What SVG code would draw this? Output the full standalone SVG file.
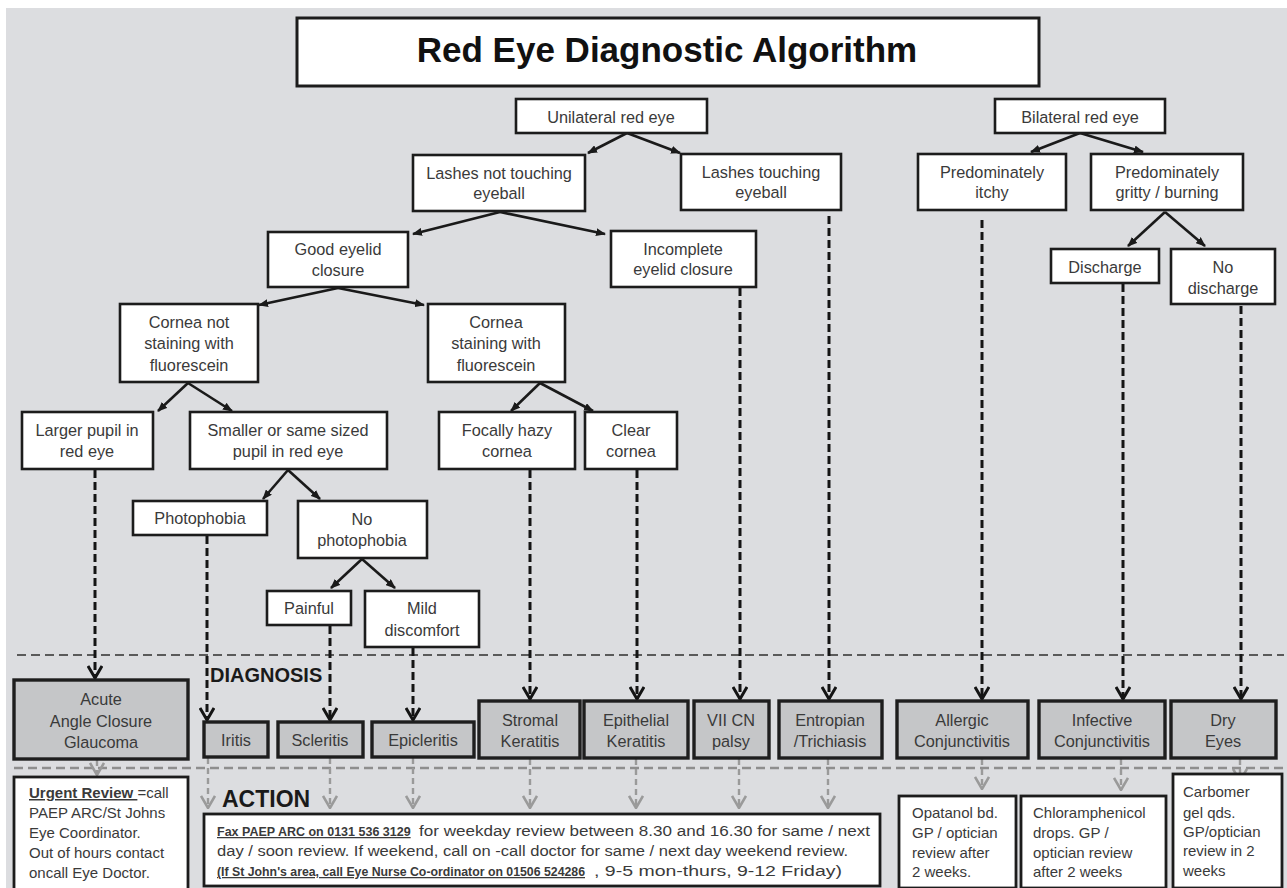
<svg xmlns="http://www.w3.org/2000/svg" width="1287" height="888" viewBox="0 0 1287 888">
<style>
.node rect{fill:#fff;stroke:#1c1c1c;stroke-width:2.6}
.dx rect{fill:#c5c6c8;stroke:#1e1e1e;stroke-width:3.4}
.act rect{fill:#fff;stroke:#1c1c1c;stroke-width:2.8}
text{font-family:"Liberation Sans",Arial,sans-serif;fill:#3a3a3a}
.c{font-size:16.3px;text-anchor:middle}
.a{font-size:15px}
.f{font-size:14px}
.fb{font-size:12.5px}
.b{font-weight:bold;text-decoration:underline}
.lbl{font-weight:bold;fill:#1a1a1a}
.tree{stroke:#1a1a1a;stroke-width:2.6;fill:none;marker-end:url(#tri)}
.dash{stroke:#141414;stroke-width:3;stroke-dasharray:8 4;fill:none;marker-end:url(#chev)}
.gdash{stroke:#9a9a9a;stroke-width:2.4;stroke-dasharray:6 4;fill:none;marker-end:url(#gchev)}
.sep1{stroke:#5a5a5a;stroke-width:2;stroke-dasharray:9 5}
.sep2{stroke:#8e8e8e;stroke-width:2.4;stroke-dasharray:9 5}
</style>
<defs>
<marker id="tri" viewBox="0 0 10 8" refX="9" refY="4" markerWidth="10" markerHeight="8" markerUnits="userSpaceOnUse" orient="auto"><path d="M0,0 L10,4 L0,8 z" fill="#1a1a1a"/></marker>
<marker id="chev" viewBox="0 0 14 16" refX="13" refY="8" markerWidth="14" markerHeight="16" markerUnits="userSpaceOnUse" orient="auto"><path d="M1,1 L13,8 L1,15" fill="none" stroke="#141414" stroke-width="3"/></marker>
<marker id="gchev" viewBox="0 0 14 16" refX="13" refY="8" markerWidth="14" markerHeight="16" markerUnits="userSpaceOnUse" orient="auto"><path d="M1,1 L13,8 L1,15" fill="none" stroke="#9a9a9a" stroke-width="2.6"/></marker>
</defs>
<rect x="0" y="0" width="1287" height="888" fill="#fff"/>
<rect x="6" y="8" width="1281" height="880" fill="#dcdde0"/>

<g id="title"><rect x="297" y="18" width="742" height="68" fill="#fff" stroke="#1c1c1c" stroke-width="3"/><text x="667" y="62" style="font-size:35px;font-weight:bold;fill:#111;text-anchor:middle">Red Eye Diagnostic Algorithm</text></g>

<g id="separators"><line class="sep1" x1="17" y1="655" x2="1284" y2="655"/><line class="sep2" x1="14" y1="768" x2="1284" y2="768"/></g>
<text x="210" y="682" class="lbl" style="font-size:20px">DIAGNOSIS</text>
<text x="222" y="807" class="lbl" style="font-size:23px">ACTION</text>

<g id="connectors">
<line class="tree" x1="627" y1="133" x2="588" y2="153"/>
<line class="tree" x1="627" y1="133" x2="680" y2="153"/>
<line class="tree" x1="500" y1="212" x2="413" y2="234"/>
<line class="tree" x1="500" y1="212" x2="605" y2="234"/>
<line class="tree" x1="338" y1="288" x2="259" y2="305"/>
<line class="tree" x1="338" y1="288" x2="424" y2="305"/>
<line class="tree" x1="188" y1="383" x2="158" y2="411"/>
<line class="tree" x1="188" y1="383" x2="232" y2="411"/>
<line class="tree" x1="540" y1="383" x2="511" y2="411"/>
<line class="tree" x1="540" y1="383" x2="593" y2="411"/>
<line class="tree" x1="288" y1="470" x2="263" y2="499"/>
<line class="tree" x1="288" y1="470" x2="320" y2="499"/>
<line class="tree" x1="362" y1="559" x2="331" y2="588"/>
<line class="tree" x1="362" y1="559" x2="395" y2="588"/>
<line class="tree" x1="1080" y1="133" x2="1031" y2="152"/>
<line class="tree" x1="1080" y1="133" x2="1143" y2="152"/>
<line class="tree" x1="1165" y1="212" x2="1128" y2="246"/>
<line class="tree" x1="1165" y1="212" x2="1205" y2="246"/>

<line class="dash" x1="95" y1="470" x2="95" y2="678"/>
<line class="dash" x1="207" y1="536" x2="207" y2="720"/>
<line class="dash" x1="330" y1="626" x2="330" y2="720"/>
<line class="dash" x1="413" y1="648" x2="413" y2="720"/>
<line class="dash" x1="530" y1="470" x2="530" y2="699"/>
<line class="dash" x1="637" y1="470" x2="637" y2="699"/>
<line class="dash" x1="740" y1="288" x2="740" y2="699"/>
<line class="dash" x1="829" y1="216" x2="829" y2="699"/>
<line class="dash" x1="982" y1="220" x2="982" y2="699"/>
<line class="dash" x1="1123" y1="284" x2="1123" y2="699"/>
<line class="dash" x1="1241" y1="306" x2="1241" y2="699"/>

<line class="gdash" x1="97" y1="760" x2="97" y2="775"/>
<line class="gdash" x1="208" y1="758" x2="208" y2="808"/>
<line class="gdash" x1="330" y1="758" x2="330" y2="808"/>
<line class="gdash" x1="413" y1="758" x2="413" y2="808"/>
<line class="gdash" x1="530" y1="759" x2="530" y2="808"/>
<line class="gdash" x1="636" y1="759" x2="636" y2="808"/>
<line class="gdash" x1="739" y1="759" x2="739" y2="808"/>
<line class="gdash" x1="828" y1="759" x2="828" y2="808"/>
<line class="gdash" x1="982" y1="759" x2="982" y2="789"/>
<line class="gdash" x1="1121" y1="759" x2="1121" y2="790"/>
<line class="gdash" x1="1240" y1="759" x2="1240" y2="781"/>
</g>

<g id="unilateral" class="node"><rect x="516" y="99" width="191" height="34"/><text class="c" x="611" y="123">Unilateral red eye</text></g>
<g id="bilateral" class="node"><rect x="995" y="99" width="170" height="34"/><text class="c" x="1080" y="123">Bilateral red eye</text></g>
<g id="lashes-not" class="node"><rect x="413" y="155" width="172" height="56"/><text class="c" x="499" y="179">Lashes not touching</text><text class="c" x="499" y="199">eyeball</text></g>
<g id="lashes-touching" class="node"><rect x="681" y="154" width="160" height="56"/><text class="c" x="761" y="178">Lashes touching</text><text class="c" x="761" y="198">eyeball</text></g>
<g id="itchy" class="node"><rect x="918" y="154" width="148" height="56"/><text class="c" x="992" y="178">Predominately</text><text class="c" x="992" y="198">itchy</text></g>
<g id="gritty" class="node"><rect x="1091" y="154" width="152" height="56"/><text class="c" x="1167" y="178">Predominately</text><text class="c" x="1167" y="198">gritty / burning</text></g>
<g id="good-eyelid" class="node"><rect x="268" y="232" width="140" height="55"/><text class="c" x="338" y="255">Good eyelid</text><text class="c" x="338" y="276">closure</text></g>
<g id="incomplete-eyelid" class="node"><rect x="611" y="231" width="145" height="56"/><text class="c" x="683" y="255">Incomplete</text><text class="c" x="683" y="275">eyelid closure</text></g>
<g id="discharge" class="node"><rect x="1051" y="249" width="108" height="34"/><text class="c" x="1105" y="273">Discharge</text></g>
<g id="no-discharge" class="node"><rect x="1171" y="249" width="104" height="55"/><text class="c" x="1223" y="273">No</text><text class="c" x="1223" y="294">discharge</text></g>
<g id="cornea-not" class="node"><rect x="120" y="304" width="138" height="78"/><text class="c" x="189" y="328">Cornea not</text><text class="c" x="189" y="349">staining with</text><text class="c" x="189" y="371">fluorescein</text></g>
<g id="cornea-staining" class="node"><rect x="428" y="304" width="137" height="78"/><text class="c" x="496" y="328">Cornea</text><text class="c" x="496" y="349">staining with</text><text class="c" x="496" y="371">fluorescein</text></g>
<g id="larger-pupil" class="node"><rect x="22" y="412" width="131" height="57"/><text class="c" x="87" y="436">Larger pupil in</text><text class="c" x="87" y="457">red eye</text></g>
<g id="smaller-pupil" class="node"><rect x="190" y="412" width="197" height="57"/><text class="c" x="288" y="436">Smaller or same sized</text><text class="c" x="288" y="457">pupil in red eye</text></g>
<g id="focally-hazy" class="node"><rect x="439" y="412" width="136" height="57"/><text class="c" x="507" y="436">Focally hazy</text><text class="c" x="507" y="457">cornea</text></g>
<g id="clear-cornea" class="node"><rect x="585" y="412" width="92" height="57"/><text class="c" x="631" y="436">Clear</text><text class="c" x="631" y="457">cornea</text></g>
<g id="photophobia" class="node"><rect x="133" y="501" width="134" height="34"/><text class="c" x="200" y="524">Photophobia</text></g>
<g id="no-photophobia" class="node"><rect x="298" y="501" width="129" height="57"/><text class="c" x="362" y="525">No</text><text class="c" x="362" y="546">photophobia</text></g>
<g id="painful" class="node"><rect x="267" y="591" width="84" height="34"/><text class="c" x="309" y="614">Painful</text></g>
<g id="mild" class="node"><rect x="365" y="591" width="114" height="56"/><text class="c" x="422" y="614">Mild</text><text class="c" x="422" y="636">discomfort</text></g>

<g id="dx-aacg" class="dx"><rect x="14" y="680" width="174" height="79"/><text class="c" x="101" y="705">Acute</text><text class="c" x="101" y="727">Angle Closure</text><text class="c" x="101" y="748">Glaucoma</text></g>
<g id="dx-iritis" class="dx"><rect x="204" y="722" width="64" height="35"/><text class="c" x="236" y="746">Iritis</text></g>
<g id="dx-scleritis" class="dx"><rect x="278" y="722" width="85" height="35"/><text class="c" x="320" y="746">Scleritis</text></g>
<g id="dx-epicleritis" class="dx"><rect x="372" y="722" width="102" height="35"/><text class="c" x="423" y="746">Epicleritis</text></g>
<g id="dx-stromal" class="dx"><rect x="479" y="701" width="101" height="57"/><text class="c" x="530" y="726">Stromal</text><text class="c" x="530" y="747">Keratitis</text></g>
<g id="dx-epithelial" class="dx"><rect x="584" y="701" width="104" height="57"/><text class="c" x="636" y="726">Epithelial</text><text class="c" x="636" y="747">Keratitis</text></g>
<g id="dx-vii" class="dx"><rect x="694" y="701" width="75" height="57"/><text class="c" x="731" y="726">VII CN</text><text class="c" x="731" y="747">palsy</text></g>
<g id="dx-entropian" class="dx"><rect x="779" y="701" width="103" height="57"/><text class="c" x="830" y="726">Entropian</text><text class="c" x="830" y="747">/Trichiasis</text></g>
<g id="dx-allergic" class="dx"><rect x="897" y="701" width="131" height="57"/><text class="c" x="962" y="726">Allergic</text><text class="c" x="962" y="747">Conjunctivitis</text></g>
<g id="dx-infective" class="dx"><rect x="1039" y="701" width="126" height="57"/><text class="c" x="1102" y="726">Infective</text><text class="c" x="1102" y="747">Conjunctivitis</text></g>
<g id="dx-dry" class="dx"><rect x="1171" y="701" width="105" height="57"/><text class="c" x="1223" y="726">Dry</text><text class="c" x="1223" y="747">Eyes</text></g>

<g id="act-urgent" class="act"><rect x="14" y="777" width="174" height="120"/>
<text class="a" x="29" y="798"><tspan class="b">Urgent Review </tspan><tspan>=call</tspan></text>
<text class="a" x="29" y="818">PAEP ARC/St Johns</text>
<text class="a" x="29" y="838">Eye Coordinator.</text>
<text class="a" x="29" y="858">Out of hours contact</text>
<text class="a" x="29" y="878">oncall Eye Doctor.</text></g>
<g id="act-fax" class="act"><rect x="204" y="814" width="676" height="72"/>
<text class="fb b" x="217" y="836">Fax PAEP ARC on 0131 536 3129</text>
<text class="f" x="419" y="836" textLength="451" lengthAdjust="spacingAndGlyphs">for weekday review between 8.30  and 16.30  for same / next</text>
<text class="f" x="217" y="856" textLength="631" lengthAdjust="spacingAndGlyphs">day / soon review. If weekend, call on -call doctor for same / next day weekend review.</text>
<text class="fb b" x="217" y="876" textLength="368" lengthAdjust="spacingAndGlyphs">(If St John's area, call Eye Nurse Co-ordinator on 01506 524286</text>
<text class="f" x="594" y="876" textLength="248" lengthAdjust="spacingAndGlyphs">, 9-5 mon-thurs, 9-12 Friday)</text></g>
<g id="act-opatanol" class="act"><rect x="899" y="796" width="117" height="92"/>
<text class="a" x="912" y="818">Opatanol bd.</text><text class="a" x="912" y="838">GP / optician</text><text class="a" x="912" y="858">review after</text><text class="a" x="912" y="877">2 weeks.</text></g>
<g id="act-chloramphenicol" class="act"><rect x="1021" y="796" width="145" height="92"/>
<text class="a" x="1033" y="818">Chloramphenicol</text><text class="a" x="1033" y="838">drops. GP /</text><text class="a" x="1033" y="858">optician review</text><text class="a" x="1033" y="877">after 2 weeks</text></g>
<g id="act-carbomer" class="act"><rect x="1173" y="774" width="109" height="114"/>
<text class="a" x="1183" y="797">Carbomer</text><text class="a" x="1183" y="818">gel qds.</text><text class="a" x="1183" y="837">GP/optician</text><text class="a" x="1183" y="856">review in 2</text><text class="a" x="1183" y="876">weeks</text></g>
</svg>
